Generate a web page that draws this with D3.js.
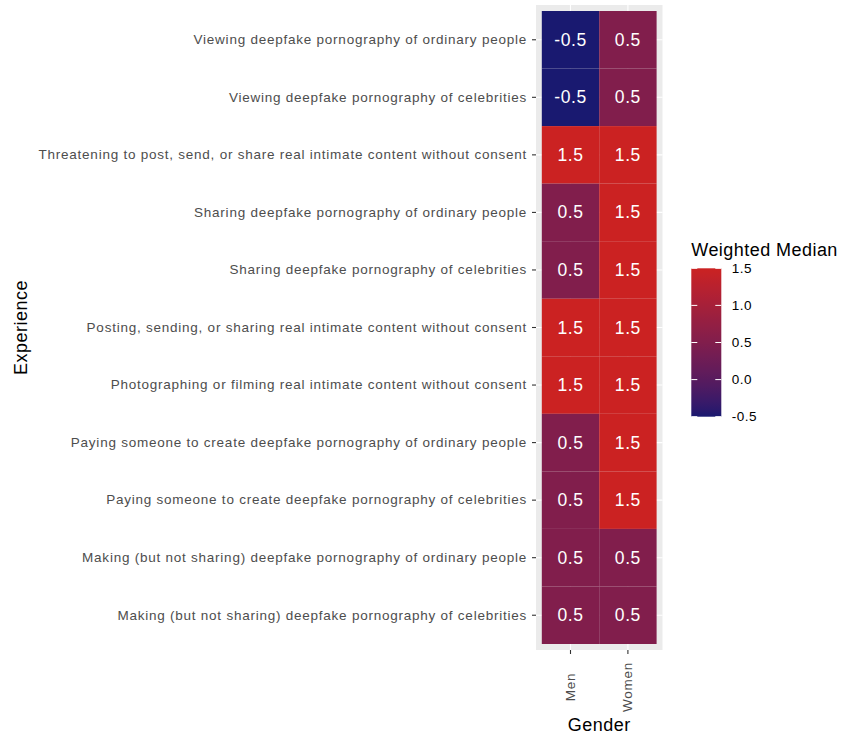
<!DOCTYPE html>
<html><head><meta charset="utf-8">
<script src="https://cdn.jsdelivr.net/npm/d3@7"></script>
<style>body{margin:0;background:#fff;} svg{display:block;font-family:"Liberation Sans",Arial,Helvetica,sans-serif;}</style>
</head><body>
<script>
const experiences = [
  "Viewing deepfake pornography of ordinary people",
  "Viewing deepfake pornography of celebrities",
  "Threatening to post, send, or share real intimate content without consent",
  "Sharing deepfake pornography of ordinary people",
  "Sharing deepfake pornography of celebrities",
  "Posting, sending, or sharing real intimate content without consent",
  "Photographing or filming real intimate content without consent",
  "Paying someone to create deepfake pornography of ordinary people",
  "Paying someone to create deepfake pornography of celebrities",
  "Making (but not sharing) deepfake pornography of ordinary people",
  "Making (but not sharing) deepfake pornography of celebrities"
];
const genders = ["Men", "Women"];
const menValues   = [-0.5, -0.5, 1.5, 0.5, 0.5, 1.5, 1.5, 0.5, 0.5, 0.5, 0.5];
const womenValues = [ 0.5,  0.5, 1.5, 1.5, 1.5, 1.5, 1.5, 1.5, 1.5, 0.5, 0.5];
const legendTicks = [-0.5, 0.0, 0.5, 1.0, 1.5];

const W = 844, H = 738;
const svg = d3.select("body").append("svg").attr("width", W).attr("height", H);

const panel = {x0: 536, x1: 662.5, y0: 5, y1: 650};
const tileX = [541.8, 656.6], tileY = [11, 644];

const cells = [];
experiences.forEach((e, i) => {
  cells.push({exp: e, g: "Men", v: menValues[i]});
  cells.push({exp: e, g: "Women", v: womenValues[i]});
});

const x = d3.scaleBand().domain(genders).range(tileX).padding(0);
const y = d3.scaleBand().domain(experiences).range(tileY).padding(0);
const color = d3.scaleLinear().domain([-0.5, 1.5]).range(["#191970", "#CB2222"]).interpolate(d3.interpolateLab);
const fmt = v => d3.format(".1f")(v).replace("−", "-");

// panel background
svg.append("rect").attr("x", panel.x0).attr("y", panel.y0)
  .attr("width", panel.x1 - panel.x0).attr("height", panel.y1 - panel.y0).attr("fill", "#ebebeb");
// grid
genders.forEach(g => {
  svg.append("line").attr("x1", x(g) + x.bandwidth()/2).attr("x2", x(g) + x.bandwidth()/2)
    .attr("y1", panel.y0).attr("y2", panel.y1).attr("stroke", "#fff").attr("stroke-width", 1.1);
});
experiences.forEach(e => {
  svg.append("line").attr("y1", y(e) + y.bandwidth()/2).attr("y2", y(e) + y.bandwidth()/2)
    .attr("x1", panel.x0).attr("x2", panel.x1).attr("stroke", "#fff").attr("stroke-width", 1.1);
});

// tiles
svg.append("g").selectAll("rect").data(cells).join("rect")
  .attr("x", d => x(d.g)).attr("y", d => y(d.exp))
  .attr("width", x.bandwidth()).attr("height", y.bandwidth())
  .attr("fill", d => color(d.v));
svg.append("g").selectAll("text").data(cells).join("text")
  .attr("x", d => x(d.g) + x.bandwidth()/2).attr("y", d => y(d.exp) + y.bandwidth()/2)
  .attr("text-anchor", "middle").attr("dominant-baseline", "central")
  .attr("fill", "#fff").attr("font-size", "17.5px").attr("letter-spacing", "0.6px")
  .text(d => fmt(d.v));

// y axis
const yAxis = svg.append("g").attr("transform", `translate(${panel.x0},0)`)
  .call(d3.axisLeft(y).tickSize(4).tickPadding(5));
yAxis.select(".domain").remove();
yAxis.selectAll("line").attr("stroke", "#333").attr("stroke-width", 1.1);
yAxis.selectAll("text").attr("fill", "#4d4d4d").attr("font-size", "13.5px")
  .attr("letter-spacing", "0.76px")
  .attr("font-family", "Liberation Sans, Arial, sans-serif");

// x axis
const xAxis = svg.append("g").attr("transform", `translate(0,${panel.y1})`)
  .call(d3.axisBottom(x).tickSize(4).tickPadding(0));
xAxis.select(".domain").remove();
xAxis.selectAll("line").attr("stroke", "#333").attr("stroke-width", 1.1);
xAxis.selectAll("text").attr("fill", "#4d4d4d").attr("font-size", "13.5px")
  .attr("letter-spacing", "0.76px")
  .attr("font-family", "Liberation Sans, Arial, sans-serif")
  .attr("text-anchor", "middle").attr("dominant-baseline", "central")
  .attr("dy", null)
  .attr("transform", "translate(0,37) rotate(-90)")
  .attr("y", 0).attr("x", 0);

// axis titles
svg.append("text").attr("x", (panel.x0 + panel.x1)/2).attr("y", 731)
  .attr("text-anchor", "middle").attr("font-size", "18px").attr("letter-spacing", "0.5px").attr("fill", "#000").text("Gender");
svg.append("text").attr("transform", `translate(27,${(panel.y0 + panel.y1)/2}) rotate(-90)`)
  .attr("text-anchor", "middle").attr("font-size", "18px").attr("letter-spacing", "0.5px").attr("fill", "#000").text("Experience");

// legend
const lg = {x: 691.3, y0: 268.3, y1: 416.7, w: 30};
const defs = svg.append("defs");
const grad = defs.append("linearGradient").attr("id", "lgrad").attr("x1", 0).attr("x2", 0).attr("y1", 1).attr("y2", 0);
d3.range(0, 1.0001, 0.05).forEach(t => {
  grad.append("stop").attr("offset", t).attr("stop-color", color(-0.5 + 2 * t));
});
svg.append("text").attr("x", lg.x).attr("y", 256).attr("font-size", "18px").attr("letter-spacing", "0.45px").attr("fill", "#000").text("Weighted Median");
svg.append("rect").attr("x", lg.x).attr("y", lg.y0).attr("width", lg.w).attr("height", lg.y1 - lg.y0).attr("fill", "url(#lgrad)");
const ly = d3.scaleLinear().domain([-0.5, 1.5]).range([lg.y1, lg.y0]);
legendTicks.forEach(v => {
  svg.append("line").attr("x1", lg.x).attr("x2", lg.x + 6).attr("y1", ly(v)).attr("y2", ly(v)).attr("stroke", "#fff").attr("stroke-width", 1);
  svg.append("line").attr("x1", lg.x + lg.w - 6).attr("x2", lg.x + lg.w).attr("y1", ly(v)).attr("y2", ly(v)).attr("stroke", "#fff").attr("stroke-width", 1);
  svg.append("text").attr("x", lg.x + lg.w + 10.5).attr("y", ly(v)).attr("dominant-baseline", "central")
    .attr("font-size", "13.5px").attr("letter-spacing", "0.5px").attr("fill", "#000").text(fmt(v));
});
</script>
</body></html>
